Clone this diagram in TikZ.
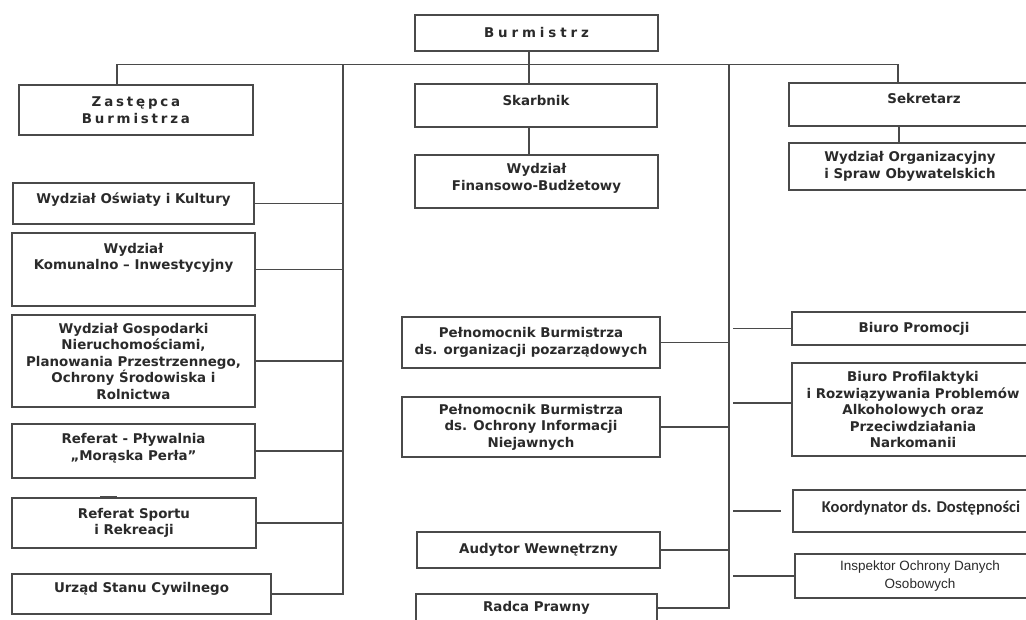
\documentclass[tikz,border=0pt]{standalone}
\usepackage{fontspec}
\setmainfont{DejaVu Sans}
\newfontfamily\arialfont{Liberation Sans}
\newfontfamily\calibrifont{Carlito}
\definecolor{ink}{HTML}{2A2A2A}
\definecolor{rule}{HTML}{4A4A4A}

\begin{document}
\begin{tikzpicture}[
    x=1pt, y=-1pt,
    every node/.style={draw=rule, line width=1.2pt, rectangle, align=center, inner sep=2pt, text=ink,
      font=\bfseries\fontsize{13.4}{16.5}\selectfont},
    sz/.style 2 args={minimum width=#1pt, minimum height=#2pt},
    lift/.style={text depth=#1pt},
    link/.style={draw=rule, line width=1.2pt}
  ]
\useasboundingbox (0,0) rectangle (1026,619);
\clip (0,0) rectangle (1026,619);

% Top level
\node[sz={243}{36}] (burm) at (536.5,33) {\addfontfeature{LetterSpace=29}Burmistrz};
\node[sz={234}{50}] (zast) at (136,110) {\addfontfeature{LetterSpace=21}Zastępca\\\addfontfeature{LetterSpace=21}Burmistrza};
\node[sz={242}{43}, lift=11] (skarb) at (536,105.5) {Skarbnik};
\node[sz={270}{43}, lift=13] (sekr) at (924,104.5) {Sekretarz};

% Under Skarbnik and Sekretarz
\node[sz={243}{53}, lift=9.4] (finans) at (536.5,181.5) {Wydział\\Finansowo-Budżetowy};
\node[sz={242}{47}] (organ) at (910,166.5) {Wydział Organizacyjny\\i Spraw Obywatelskich};

% Left column
\node[sz={241}{41}, lift=10] (oswiaty) at (133.5,203.5) {Wydział Oświaty i Kultury};
\node[sz={243}{73}, lift=26.4] (komun) at (133.5,269.5) {Wydział\\Komunalno – Inwestycyjny};
\node[sz={243}{92}] (gosp) at (133.5,361) {Wydział Gospodarki\\Nieruchomościami,\\Planowania Przestrzennego,\\Ochrony Środowiska i\\Rolnictwa};
\node[sz={243}{54}, lift=8.4] (plyw) at (133.5,451) {Referat - Pływalnia\\„Morąska Perła”};
\node[sz={244}{50}] (sport) at (134,523) {Referat Sportu\\i Rekreacji};
\node[sz={259}{40}, lift=12.4] (usc) at (141.5,594) {Urząd Stanu Cywilnego};

% Middle column
\node[sz={258}{51}] (peln1) at (531,342.5) {Pełnomocnik Burmistrza\\ds. organizacji pozarządowych};
\node[sz={258}{60}] (peln2) at (531,427) {Pełnomocnik Burmistrza\\ds. Ochrony Informacji\\Niejawnych};
\node[sz={243}{36}] (audyt) at (538.5,550) {Audytor Wewnętrzny};
\node[sz={241}{28}] (radca) at (536.5,608) {Radca Prawny};

% Right column
\node[sz={244}{33}] (promo) at (914,328.5) {Biuro Promocji};
\node[sz={242}{93}] (profil) at (913,409.5) {Biuro Profilaktyki\\i Rozwiązywania Problemów\\Alkoholowych oraz\\Przeciwdziałania\\Narkomanii};
\node[sz={256}{42}, lift=8, font=\calibrifont\bfseries\fontsize{16.5}{19}\selectfont] (koord) at (921,511) {Koordynator ds. Dostępności};
\node[sz={250}{44}, font=\arialfont\fontsize{13.5}{18}\selectfont] (insp) at (920,576) {Inspektor Ochrony Danych\\Osobowych};

\coordinate (lspine) at (343,65);
\coordinate (rspine) at (729,65);
\coordinate (rgap) at (733,65);

% Connectors
\draw[link] ([xshift=-19pt]zast.north) -- ++(0,-20) -| ([xshift=-26pt]sekr.north);
\draw[link] ([xshift=-7.5pt]burm.south) -- ([xshift=-7.5pt]burm.south |- skarb.north);
\draw[link] ([xshift=-7pt]skarb.south) -- ([xshift=-7pt]skarb.south |- finans.north);
\draw[link] ([xshift=-25pt]sekr.south) -- ([xshift=-25pt]sekr.south |- organ.north);

\draw[link] (lspine) |- (usc.east);
\foreach \n in {oswiaty,komun,gosp,plyw,sport}
  \draw[link] (\n.east) -- (\n.east -| lspine);

\draw[link] (rspine) |- (radca.east);
\foreach \n in {peln1,peln2,audyt}
  \draw[link] (\n.east) -- (\n.east -| rspine);
\foreach \n in {promo,insp}
  \draw[link] (\n.west -| rgap) -- (\n.west);
\draw[link] ([yshift=6.5pt]profil.west -| rgap) -- ([yshift=6.5pt]profil.west);
\draw[link] (koord.west -| rgap) -- ([xshift=-11pt]koord.west);

% stray mark above Referat Sportu
\draw[link] (100,497) -- (117,497);

\end{tikzpicture}
\end{document}
